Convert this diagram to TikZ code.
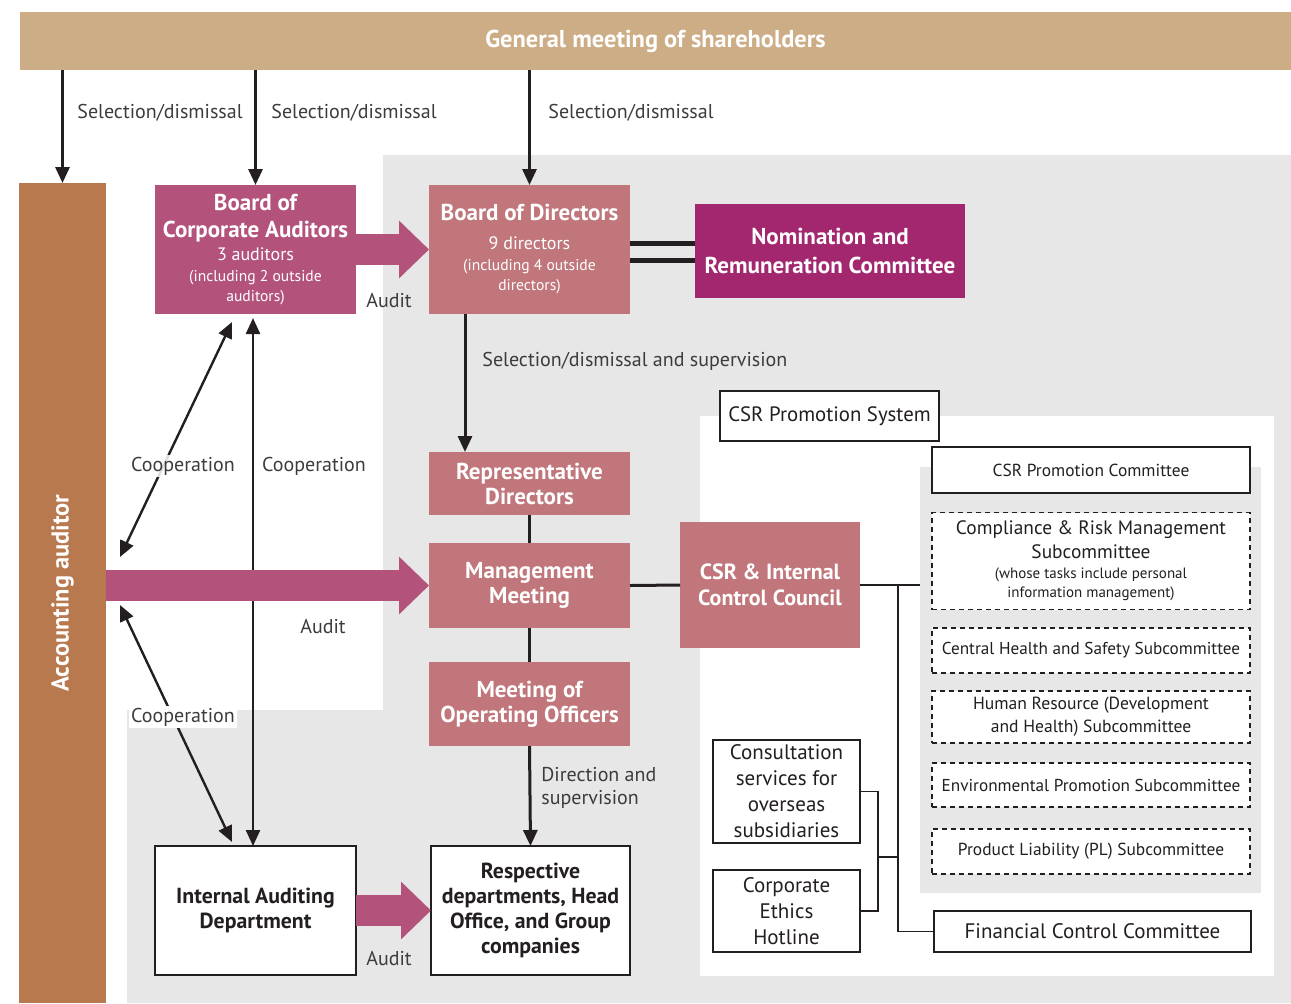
\documentclass[tikz,border=0pt]{standalone}
\usepackage{fontspec}
\setmainfont{PT Sans}
\usepackage{tikz}
\usetikzlibrary{arrows.meta,positioning,calc}

\definecolor{gmtan}{HTML}{CDAD86}
\definecolor{accbrown}{HTML}{B8794E}
\definecolor{auditpink}{HTML}{B3537B}
\definecolor{boardrose}{HTML}{C0767A}
\definecolor{nrcplum}{HTML}{A3276F}
\definecolor{panelgray}{HTML}{E6E7E6}
\definecolor{inkgray}{HTML}{231F20}
\definecolor{labelgray}{HTML}{3C3C3C}

\tikzset{
  orgbox/.style={rectangle, inner sep=2pt, outer sep=0pt, align=center, text=white,
    font=\bfseries\fontsize{11.5}{12.5}\selectfont},
  rosebox/.style={orgbox, fill=boardrose},
  pinkbox/.style={orgbox, fill=auditpink},
  linebox/.style={rectangle, draw=inkgray, line width=0.7pt, fill=white, inner sep=2pt,
    outer sep=0pt, align=center, text=inkgray, font=\fontsize{10.5}{13}\selectfont},
  dashbox/.style={linebox, dash pattern=on 2.5pt off 2pt},
  lbl/.style={text=labelgray, font=\fontsize{10}{11.5}\selectfont, inner sep=1pt},
  selarrow/.style={draw=inkgray, line width=1.5pt, -{Triangle[length=8pt,width=7pt]}},
  cooparrow/.style={draw=inkgray, line width=1.2pt,
    {Triangle[length=8pt,width=7pt]}-{Triangle[length=8pt,width=7pt]}},
  fatarrow/.style={draw=auditpink, line width=15.5pt, -{Triangle[length=15pt,width=28pt]}},
  tie/.style={draw=inkgray, line width=1.5pt},
  branch/.style={draw=inkgray, line width=0.8pt},
}

\begin{document}
\begin{tikzpicture}[x=0.5pt,y=-0.5pt]
  \useasboundingbox (0,0) rectangle (1291,1003);
  % panels
  \fill[panelgray] (383,155) -- (1291,155) -- (1291,1003) -- (127,1003) -- (127,710)
    -- (383,710) -- cycle;
  \fill[white] (700,416) rectangle (1274,976);
  \fill[panelgray] (920,467) rectangle (1261,893);

  % shareholders and accounting auditor
  \node[fill=gmtan, minimum width=635.5pt, minimum height=29pt, outer sep=0pt, text=white,
    font=\bfseries\fontsize{12.2}{14}\selectfont] (gm) at (655.5,41) {General meeting of shareholders};
  \node[fill=accbrown, minimum width=43.5pt, minimum height=410pt, inner sep=0pt, outer sep=0pt]
    (acc) at (62.5,593) {};
  \node[rotate=90, text=white, font=\bfseries\fontsize{12.2}{14}\selectfont] (acctext) at (acc) {Accounting auditor};

  % governance boxes
  \node[pinkbox, minimum width=100.5pt, minimum height=64.5pt] (bca) at (255.5,249.5)
    {Board of\\[1pt]Corporate Auditors\\[-1pt]
     {\mdseries\fontsize{9}{10}\selectfont 3 auditors}\\[-2pt]
     {\mdseries\fontsize{7.8}{9}\selectfont (including 2 outside}\\[-2.5pt]
     {\mdseries\fontsize{7.8}{9}\selectfont auditors)}};
  \node[rosebox, minimum width=100.5pt, minimum height=64.5pt] (bod) at (529.5,249.5)
    {Board of Directors\\[2pt]
     {\mdseries\fontsize{9}{10}\selectfont 9 directors}\\[-2pt]
     {\mdseries\fontsize{7.8}{9}\selectfont (including 4 outside}\\[-2.5pt]
     {\mdseries\fontsize{7.8}{9}\selectfont directors)}};
  \node[orgbox, fill=nrcplum, minimum width=135pt, minimum height=47pt] (nrc) at (830,251)
    {Nomination and\\[2pt]Remuneration Committee};
  \node[rosebox, minimum width=100.5pt, minimum height=31.5pt] (rep) at (529.5,483.5)
    {Representative\\Directors};
  \node[rosebox, minimum width=100.5pt, minimum height=42.5pt] (mm) at (529.5,585.5)
    {Management\\Meeting};
  \node[rosebox, minimum width=100.5pt, minimum height=42pt] (moo) at (529.5,704)
    {Meeting of\\Operating Officers};
  \node[rosebox, minimum width=90pt, minimum height=63pt, font=\bfseries\fontsize{11}{13}\selectfont]
    (csr) at (770,585) {CSR \& Internal\\Control Council};
  \node[linebox, minimum width=100.5pt, minimum height=64.5pt,
    font=\bfseries\fontsize{10.9}{12.5}\selectfont] (iad) at (255.5,910.5)
    {Internal Auditing\\Department};
  \node[linebox, minimum width=99.5pt, minimum height=64.5pt,
    font=\bfseries\fontsize{10.9}{12.5}\selectfont] (resp) at (530.5,910.5)
    {Respective\\departments, Head\\Office, and Group\\companies};

  % CSR promotion system
  \node[linebox, minimum width=109.5pt, minimum height=25pt, font=\fontsize{10.4}{12}\selectfont]
    (sys) at (829.5,416) {CSR Promotion System};
  \node[linebox, minimum width=159pt, minimum height=23pt, font=\fontsize{8.7}{10}\selectfont]
    (com) at (1091,470) {CSR Promotion Committee};
  \node[dashbox, minimum width=159pt, minimum height=48.5pt, font=\fontsize{9.7}{12}\selectfont]
    (sub1) at (1091,561) {Compliance \& Risk Management\\Subcommittee\\[-2pt]
     {\fontsize{7.5}{8.5}\selectfont (whose tasks include personal}\\[-2.5pt]
     {\fontsize{7.5}{8.5}\selectfont information management)}};
  \node[dashbox, minimum width=159pt, minimum height=22.5pt, font=\fontsize{8.6}{10}\selectfont]
    (sub2) at (1091,650.5) {Central Health and Safety Subcommittee};
  \node[dashbox, minimum width=159pt, minimum height=26pt, font=\fontsize{8.8}{11.5}\selectfont]
    (sub3) at (1091,717) {Human Resource (Development\\and Health) Subcommittee};
  \node[dashbox, minimum width=159pt, minimum height=22pt, font=\fontsize{8.6}{10}\selectfont]
    (sub4) at (1091,785) {Environmental Promotion Subcommittee};
  \node[dashbox, minimum width=159pt, minimum height=22.5pt, font=\fontsize{8.7}{10}\selectfont]
    (sub5) at (1091,851.5) {Product Liability (PL) Subcommittee};
  \node[linebox, minimum width=158.5pt, minimum height=20.5pt] (fcc) at (1092.5,931.5)
    {Financial Control Committee};
  \node[linebox, minimum width=73.5pt, minimum height=51.5pt, font=\fontsize{10.5}{13}\selectfont]
    (cons) at (786.5,791.5) {Consultation\\services for\\overseas\\subsidiaries};
  \node[linebox, minimum width=73.5pt, minimum height=41pt, font=\fontsize{10.5}{13}\selectfont]
    (hot) at (786.5,911) {Corporate\\Ethics\\Hotline};

  % selection / supervision arrows
  \draw[selarrow] (gm.south -| acc.north) -- (acc.north);
  \draw[selarrow] (gm.south -| bca.north) -- (bca.north);
  \draw[selarrow] (gm.south -| bod.north) -- (bod.north);
  \draw[selarrow] ([xshift=-32.25pt]bod.south) -- ([xshift=-32.25pt]rep.north);
  \draw[selarrow] (moo.south) -- (resp.north);
  \draw[tie] (rep.south) -- (mm.north);
  \draw[tie] (mm.south) -- (moo.north);
  \draw[tie] (mm.east) -- (csr.west);
  \draw[line width=2.5pt, draw=inkgray] ([yshift=4pt]nrc.west) -- ([yshift=4pt]nrc.west -| bod.east);
  \draw[line width=2.5pt, draw=inkgray] ([yshift=-4.5pt]nrc.west) -- ([yshift=-4.5pt]nrc.west -| bod.east);

  % cooperation arrows
  \coordinate (co1a) at (232,322);
  \coordinate (co1b) at (120,557);
  \coordinate (co3a) at (120,605);
  \coordinate (co3b) at (232,842);
  \draw[cooparrow] (co1a) -- (co1b);
  \draw[cooparrow, shorten <=2pt] ([xshift=-1.25pt]bca.south) -- ([xshift=-1.25pt]iad.north);
  \draw[cooparrow] (co3a) -- (co3b);

  % audit arrows
  \draw[fatarrow] (bca.east) -- (bod.west);
  \draw[fatarrow] (acc.east |- mm.west) -- (mm.west);
  \draw[fatarrow] (iad.east) -- (resp.west);

  % CSR branches
  \coordinate (panel) at (920,585);
  \coordinate (hub) at (898,585);
  \coordinate (fork) at (878,857);
  \draw[branch] (csr.east) -- (panel);
  \draw[branch] (hub) |- (fcc.west);
  \draw[branch] (cons.east) -- (cons.east -| fork) -- (hot.east -| fork) -- (hot.east);
  \draw[branch] (fork) -- (fork -| hub);

  % labels
  \node[lbl, anchor=west] (sel1) at (75,113) {Selection/dismissal};
  \node[lbl, anchor=west] (sel2) at (269,113) {Selection/dismissal};
  \node[lbl, anchor=west] (sel3) at (546,113) {Selection/dismissal};
  \node[lbl, anchor=west] (sel4) at (480,361) {Selection/dismissal and supervision};
  \node[lbl, anchor=west, align=left] (dir) at (539,787.5) {Direction and\\supervision};
  \node[lbl] (aud1) at (389,300) {Audit};
  \node[lbl] (aud2) at (323,626) {Audit};
  \node[lbl] (aud3) at (389,958) {Audit};
  \node[lbl] (coop2) at (314,466) {Cooperation};
  \node[lbl, fill=white, fill opacity=0.85, text opacity=1] (coop1) at (183,466) {Cooperation};
  \node[lbl, fill=white] (coop3) at (183,717) {Cooperation};
\end{tikzpicture}
\end{document}
